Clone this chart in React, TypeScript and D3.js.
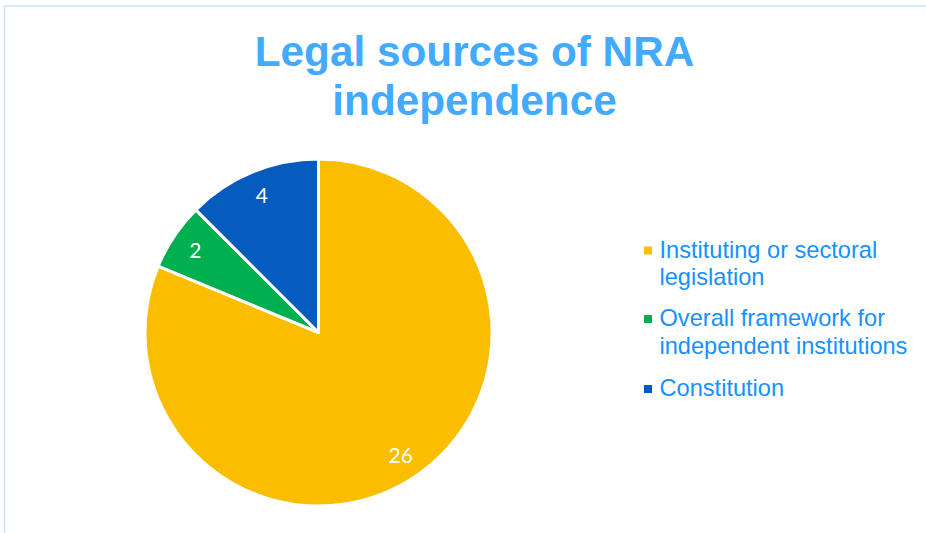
import React from "react";
import * as d3 from "d3";

const categories = [
  "Instituting or sectoral legislation",
  "Overall framework for independent institutions",
  "Constitution",
];
const values = [26, 2, 4];
const colors = ["#FABD00", "#00AF50", "#065BBE"];
const legendLines = [
  ["Instituting or sectoral", "legislation"],
  ["Overall framework for", "independent institutions"],
  ["Constitution"],
];
const titleLines = ["Legal sources of NRA", "independence"];

export default function App() {
  const W = 926;
  const H = 533;
  const cx = 318.5;
  const cy = 332.5;
  const r = 173.5;
  const data = categories.map((c, i) => ({ c, v: values[i], color: colors[i] }));
  const pie = d3.pie<any>().value((d) => d.v).sort(null).startAngle(0).endAngle(2 * Math.PI);
  const arcs = pie(data);
  const arc = d3.arc<any>().innerRadius(0).outerRadius(r);
  const labelArc = d3.arc<any>().innerRadius(148).outerRadius(148);

  const legendStarts = [257.5, 326, 396];
  const lineGap = 27.5;

  return (
    <svg
      width={W}
      height={H}
      style={{ position: "absolute", left: 0, top: 0, background: "#fff" }}
    >
      <line x1={4.5} y1={6} x2={W} y2={6} stroke="#c9e4fb" strokeWidth={1.5} />
      <line x1={4.5} y1={6} x2={4.5} y2={H} stroke="#c9e4fb" strokeWidth={1.5} />
      <g fontFamily="'Liberation Sans', Arial, sans-serif" fontWeight="bold" fontSize={42.3} fill="#42AAFF" textAnchor="middle">
        {titleLines.map((t, i) => (
          <text key={i} x={474.5} y={66 + i * 49}>{t}</text>
        ))}
      </g>
      <g transform={`translate(${cx},${cy})`}>
        {arcs.map((a, i) => (
          <path key={i} d={arc(a) as string} fill={a.data.color} stroke="#fff" strokeWidth={3} strokeLinejoin="round" />
        ))}
        {arcs.map((a, i) => {
          const [x, y] = labelArc.centroid(a);
          return (
            <text key={"l" + i} x={x} y={y} dy="0.35em" textAnchor="middle" fill="#fff" fontFamily="Lato, 'Open Sans', sans-serif" fontSize={21}>
              {a.data.v}
            </text>
          );
        })}
      </g>
      <g fontFamily="'Liberation Sans', Arial, sans-serif" fontSize={23.6} fill="#1592FF">
        {legendLines.map((lines, i) => (
          <g key={i}>
            <rect x={644} y={legendStarts[i] - 11} width={8} height={8} fill={colors[i]} />
            {lines.map((t, j) => (
              <text key={j} x={659.5} y={legendStarts[i] + j * lineGap}>{t}</text>
            ))}
          </g>
        ))}
      </g>
    </svg>
  );
}
